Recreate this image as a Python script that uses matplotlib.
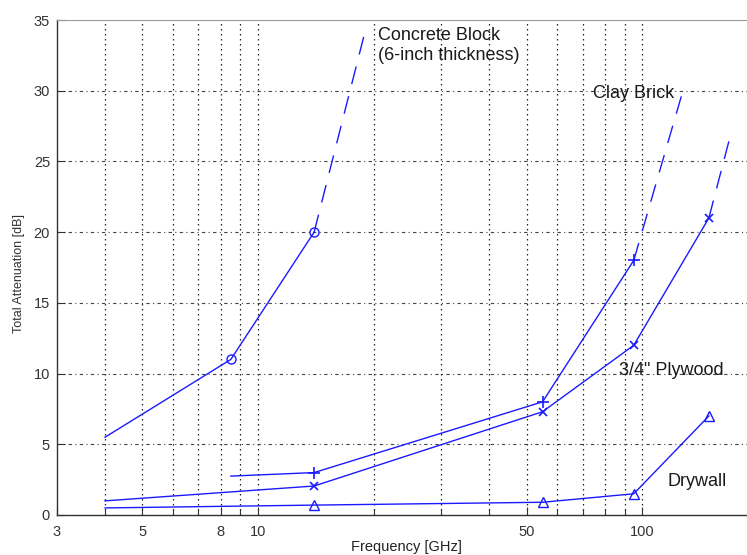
import matplotlib
matplotlib.use("Agg")
import matplotlib.pyplot as plt
from matplotlib.ticker import FixedLocator, NullFormatter

plt.rcParams['font.family'] = ['Liberation Sans', 'DejaVu Sans']

# ---- data (frequency in GHz, attenuation in dB) ----
concrete_f = [4, 8.5, 14]
concrete_db = [5.5, 11, 20]
concrete_ext_f = [14, 19]
concrete_ext_db = [20, 34.2]

brick_f = [8.5, 14, 55, 95]
brick_db = [2.75, 3.0, 8.0, 18.0]
brick_ext_f = [95, 128.5]
brick_ext_db = [18.0, 30.3]

plywood_f = [4, 14, 55, 95, 149]
plywood_db = [1.0, 2.05, 7.3, 12.0, 21.0]
plywood_ext_f = [149, 169]
plywood_ext_db = [21.0, 26.7]

drywall_f = [4, 14, 55, 95, 149]
drywall_db = [0.5, 0.7, 0.9, 1.5, 7.0]

x_major = [3, 5, 8, 10, 50, 100]
x_minor = [4, 6, 7, 9, 20, 30, 40, 60, 70, 80, 90]
y_ticks = [0, 5, 10, 15, 20, 25, 30, 35]

labels = ["Concrete Block\n(6-inch thickness)", "Clay Brick", "3/4\" Plywood", "Drywall"]

# ---- figure ----
fig = plt.figure(figsize=(7.47, 5.55), dpi=100)
ax = fig.add_axes([57/747, 40/555, 701/747, 495/555])
ax.set_xscale('log')
ax.set_xlim(3, 200)
ax.set_ylim(0, 35)

blue = '#1a1aff'
lw = 1.0
dash = (0, (13, 9))

ax.plot(concrete_f, concrete_db, color=blue, lw=lw)
ax.plot(concrete_f[1:], concrete_db[1:], ls='none', marker='o', ms=6.5, mfc='none', mec=blue, mew=1)
ax.plot(concrete_ext_f, concrete_ext_db, color=blue, lw=lw, ls=dash)

ax.plot(brick_f, brick_db, color=blue, lw=lw)
ax.plot(brick_f[1:], brick_db[1:], ls='none', marker='+', ms=9, mec=blue, mew=1.2)
ax.plot(brick_ext_f, brick_ext_db, color=blue, lw=lw, ls=dash)

ax.plot(plywood_f, plywood_db, color=blue, lw=lw)
ax.plot(plywood_f[1:], plywood_db[1:], ls='none', marker='x', ms=6, mec=blue, mew=1.2)
ax.plot(plywood_ext_f, plywood_ext_db, color=blue, lw=lw, ls=dash)

ax.plot(drywall_f, drywall_db, color=blue, lw=lw)
ax.plot(drywall_f[1:], drywall_db[1:], ls='none', marker='^', ms=7, mfc='none', mec=blue, mew=1)

# ---- ticks & grid ----
ax.xaxis.set_major_locator(FixedLocator(x_major))
ax.xaxis.set_minor_locator(FixedLocator(x_minor))
ax.set_xticklabels([str(v) for v in x_major])
ax.xaxis.set_minor_formatter(NullFormatter())
ax.set_yticks(y_ticks)
ax.tick_params(which='both', direction='in', colors='#333333', labelsize=10.5, top=False, right=False)
ax.tick_params(which='major', length=6, width=0.8)
ax.tick_params(which='minor', length=4, width=0.8)
ax.tick_params(axis='x', pad=7)
ax.tick_params(axis='y', pad=5)

for xv in x_major[1:] + x_minor:
    if xv > 3:
        ax.axvline(xv, color='#222222', lw=0.9, ls=(0, (1.2, 2.8)), zorder=0)
for yv in y_ticks[1:-1]:
    ax.axhline(yv, color='#444444', lw=0.8, ls=(0, (3, 3, 1, 3)), zorder=0)

for side in ['left', 'bottom']:
    ax.spines[side].set_color('#333333')
    ax.spines[side].set_linewidth(1.0)
ax.spines['top'].set_color('#999999')
ax.spines['top'].set_linewidth(0.8)
ax.spines['right'].set_visible(False)

ax.set_ylabel('Total Attenuation [dB]', fontsize=9, color='#333333')
ax.yaxis.set_label_coords(-0.0456, 0.487)
ax.set_xlabel('Frequency [GHz]', fontsize=10.5, color='#222222')
ax.xaxis.set_label_coords(0.499, -0.050)

tc = '#1a1a1a'
ax.text(20.5, 32.2, labels[0], fontsize=13, color=tc, va='baseline', ha='left', linespacing=1.2)
ax.text(74.4, 29.5, labels[1], fontsize=13, color=tc, va='baseline', ha='left')
ax.text(87, 9.9, labels[2], fontsize=13, color=tc, va='baseline', ha='left')
ax.text(116.5, 2.05, labels[3], fontsize=13, color=tc, va='baseline', ha='left')

fig.savefig('out.png', dpi=100)
